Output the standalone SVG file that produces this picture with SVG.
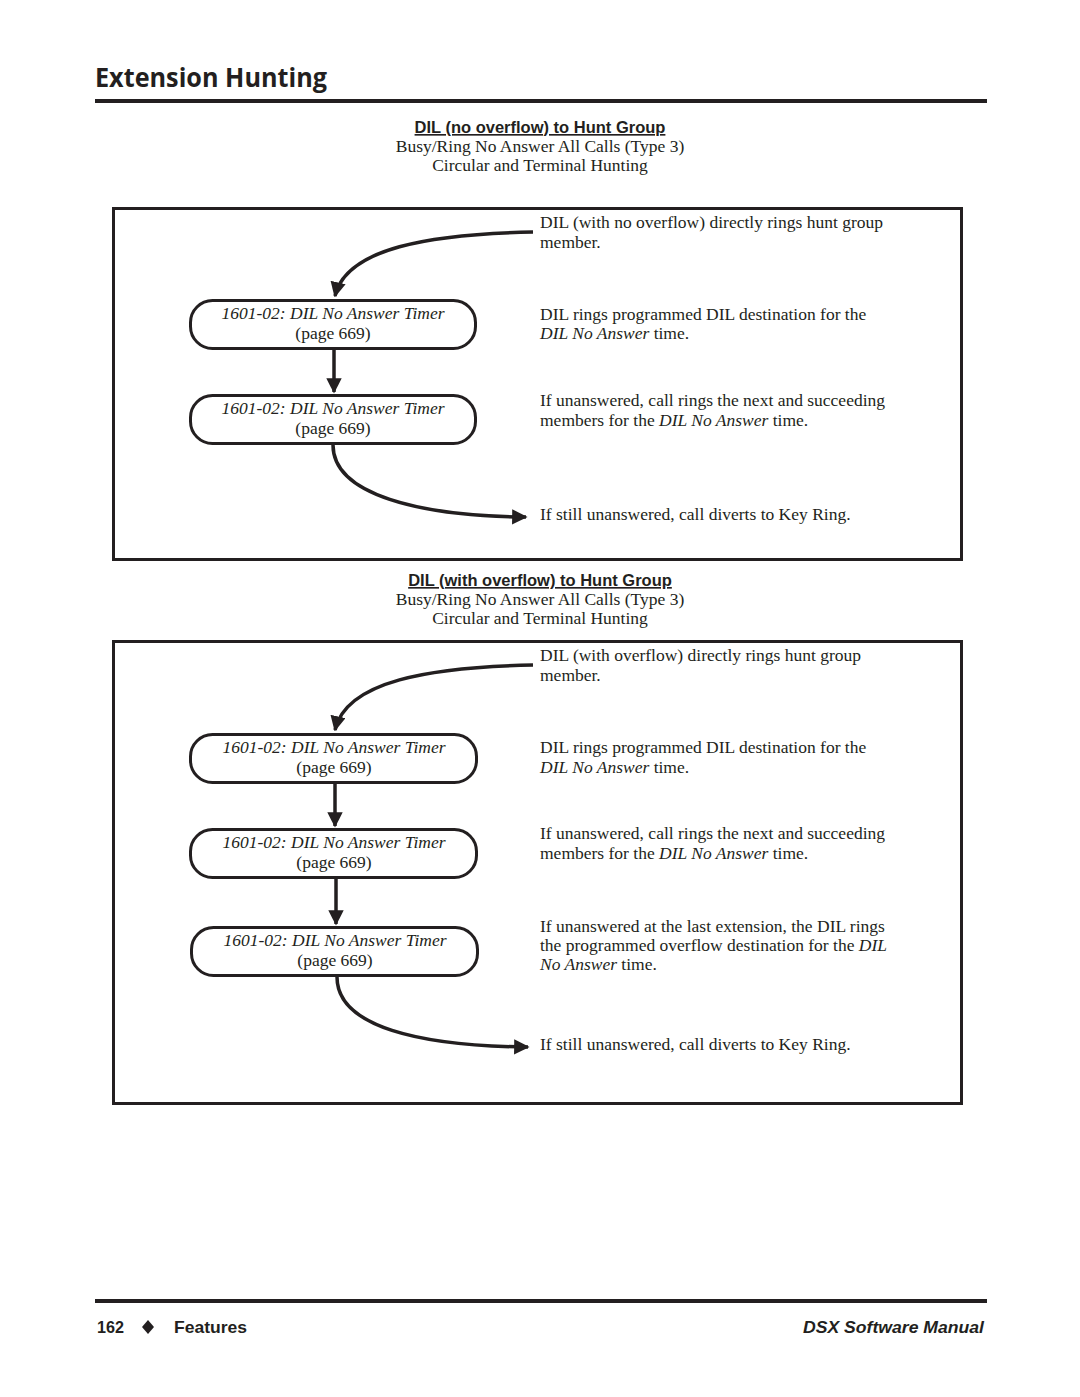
<svg xmlns="http://www.w3.org/2000/svg" width="1080" height="1397" viewBox="0 0 1080 1397">
<defs>
<style>
.title{font-family:"Open Sans","Liberation Sans",sans-serif;font-weight:bold;font-size:27px;fill:#231f20}
.rule{stroke:#231f20;stroke-width:4}
.head{font-family:"Liberation Sans",Arial,sans-serif;font-weight:bold;font-size:16.5px;fill:#231f20;text-decoration:underline;text-anchor:middle}
.sub{font-family:"Liberation Serif","Times New Roman",serif;font-size:17.5px;fill:#231f20;text-anchor:middle}
.body{font-family:"Liberation Serif","Times New Roman",serif;font-size:17.5px;fill:#231f20}
.it{font-style:italic}
.frame{fill:none;stroke:#231f20;stroke-width:3}
.node rect{fill:#fff;stroke:#231f20;stroke-width:3}
.node text{font-family:"Liberation Serif","Times New Roman",serif;font-size:17.5px;fill:#231f20;text-anchor:middle}
.conn{fill:none;stroke:#231f20;stroke-width:3.5}
.foot{font-family:"Liberation Sans",Arial,sans-serif;font-weight:bold;font-size:17px;fill:#231f20}
</style>
<marker id="ah" viewBox="0 0 10 10" refX="9" refY="5" markerWidth="4.4" markerHeight="4.4" markerUnits="strokeWidth" orient="auto">
<path d="M0,0 L10,5 L0,10 Z" fill="#231f20"/>
</marker>
</defs>
<rect width="1080" height="1397" fill="#fff"/>

<text class="title" x="95" y="87" textLength="232" lengthAdjust="spacingAndGlyphs">Extension Hunting</text>
<line class="rule" x1="95" y1="101" x2="987" y2="101"/>

<!-- Section 1 -->
<text class="head" x="540" y="133">DIL (no overflow) to Hunt Group</text>
<text class="sub" x="540" y="152">Busy/Ring No Answer All Calls (Type 3)</text>
<text class="sub" x="540" y="171">Circular and Terminal Hunting</text>
<rect class="frame" x="113.5" y="208.5" width="848" height="351"/>

<text class="body" x="540" y="228">DIL (with no overflow) directly rings hunt group</text>
<text class="body" x="540" y="248">member.</text>
<text class="body" x="540" y="320">DIL rings programmed DIL destination for the</text>
<text class="body" x="540" y="339"><tspan class="it">DIL No Answer</tspan> time.</text>
<text class="body" x="540" y="406">If unanswered, call rings the next and succeeding</text>
<text class="body" x="540" y="426">members for the <tspan class="it">DIL No Answer</tspan> time.</text>
<text class="body" x="540" y="520">If still unanswered, call diverts to Key Ring.</text>

<g id="n1a" class="node">
<rect x="190.5" y="300.5" width="285" height="48" rx="22" ry="22"/>
<text x="333" y="319"><tspan class="it">1601-02: DIL No Answer Timer</tspan></text>
<text x="333" y="339">(page 669)</text>
</g>
<g id="n1b" class="node">
<rect x="190.5" y="395.5" width="285" height="48" rx="22" ry="22"/>
<text x="333" y="414"><tspan class="it">1601-02: DIL No Answer Timer</tspan></text>
<text x="333" y="434">(page 669)</text>
</g>

<!-- Section 2 -->
<text class="head" x="540" y="586">DIL (with overflow) to Hunt Group</text>
<text class="sub" x="540" y="605">Busy/Ring No Answer All Calls (Type 3)</text>
<text class="sub" x="540" y="624">Circular and Terminal Hunting</text>
<rect class="frame" x="113.5" y="641.5" width="848" height="462"/>

<text class="body" x="540" y="661">DIL (with overflow) directly rings hunt group</text>
<text class="body" x="540" y="681">member.</text>
<text class="body" x="540" y="753">DIL rings programmed DIL destination for the</text>
<text class="body" x="540" y="773"><tspan class="it">DIL No Answer</tspan> time.</text>
<text class="body" x="540" y="839">If unanswered, call rings the next and succeeding</text>
<text class="body" x="540" y="859">members for the <tspan class="it">DIL No Answer</tspan> time.</text>
<text class="body" x="540" y="932">If unanswered at the last extension, the DIL rings</text>
<text class="body" x="540" y="951">the programmed overflow destination for the <tspan class="it">DIL</tspan></text>
<text class="body" x="540" y="970"><tspan class="it">No Answer</tspan> time.</text>
<text class="body" x="540" y="1050">If still unanswered, call diverts to Key Ring.</text>

<g id="n2a" class="node">
<rect x="190.5" y="734.5" width="286" height="48" rx="22" ry="22"/>
<text x="334" y="753"><tspan class="it">1601-02: DIL No Answer Timer</tspan></text>
<text x="334" y="773">(page 669)</text>
</g>
<g id="n2b" class="node">
<rect x="190.5" y="829.5" width="286" height="48" rx="22" ry="22"/>
<text x="334" y="848"><tspan class="it">1601-02: DIL No Answer Timer</tspan></text>
<text x="334" y="868">(page 669)</text>
</g>
<g id="n2c" class="node">
<rect x="191.5" y="927.5" width="286" height="48" rx="22" ry="22"/>
<text x="335" y="946"><tspan class="it">1601-02: DIL No Answer Timer</tspan></text>
<text x="335" y="966">(page 669)</text>
</g>

<g id="connectors">
<path class="conn" marker-end="url(#ah)" d="M533,232 C430,234 346,248 335,296"/>
<path class="conn" marker-end="url(#ah)" d="M334,349 L334,392"/>
<path class="conn" marker-end="url(#ah)" d="M333,445 C333,495 420,516 526,517"/>
<path class="conn" marker-end="url(#ah)" d="M533,665 C430,667 346,681 335,730"/>
<path class="conn" marker-end="url(#ah)" d="M335,783 L335,826"/>
<path class="conn" marker-end="url(#ah)" d="M336,878 L336,924"/>
<path class="conn" marker-end="url(#ah)" d="M337,977 C337,1027 420,1046 528,1047"/>
</g>

<line class="rule" x1="95" y1="1301" x2="987" y2="1301"/>
<text class="foot" x="97" y="1333" textLength="27" lengthAdjust="spacingAndGlyphs">162</text>
<path d="M148,1320 L154,1327 L148,1334 L142,1327 Z" fill="#231f20"/>
<text class="foot" x="174" y="1333" textLength="73" lengthAdjust="spacingAndGlyphs">Features</text>
<text class="foot" x="984" y="1333" font-style="italic" text-anchor="end" textLength="181" lengthAdjust="spacingAndGlyphs">DSX Software Manual</text>
</svg>
